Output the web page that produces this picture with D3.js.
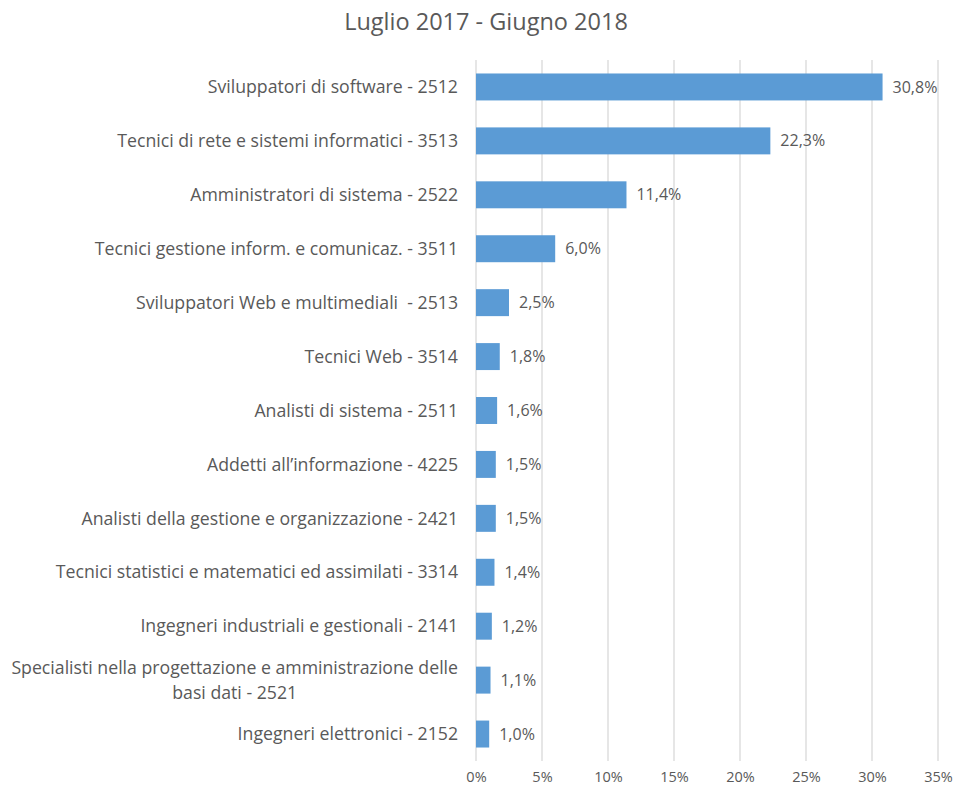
<!DOCTYPE html>
<html><head><meta charset="utf-8">
<script src="https://cdn.jsdelivr.net/npm/d3@7"></script>
<style>body{margin:0;background:#fff}text{font-family:"Open Sans",sans-serif;fill:#595959}</style>
</head><body><svg id="c" width="956" height="789"></svg>
<script>
const title = "Luglio 2017 - Giugno 2018";
const categories = [
 ["Sviluppatori di software - 2512"],
 ["Tecnici di rete e sistemi informatici - 3513"],
 ["Amministratori di sistema - 2522"],
 ["Tecnici gestione inform. e comunicaz. - 3511"],
 ["Sviluppatori Web e multimediali  - 2513"],
 ["Tecnici Web - 3514"],
 ["Analisti di sistema - 2511"],
 ["Addetti all\u2019informazione - 4225"],
 ["Analisti della gestione e organizzazione - 2421"],
 ["Tecnici statistici e matematici ed assimilati - 3314"],
 ["Ingegneri industriali e gestionali - 2141"],
 ["Specialisti nella progettazione e amministrazione delle","basi dati - 2521"],
 ["Ingegneri elettronici - 2152"]
];
const values = [30.8, 22.3, 11.4, 6.0, 2.5, 1.8, 1.6, 1.5, 1.5, 1.4, 1.2, 1.1, 1.0];
const ticks = [0, 5, 10, 15, 20, 25, 30, 35];

const svg = d3.select("#c");
const x = d3.scaleLinear().domain([0, 35]).range([476, 938]);
const y = d3.scaleBand().domain(d3.range(categories.length)).range([60, 761]).paddingInner(0.5).paddingOuter(0.25);

svg.append("text").attr("x", 486).attr("y", 30).attr("text-anchor", "middle")
  .style("font-size", "23.5px").text(title);

const grid = svg.append("g");
grid.selectAll("line").data(ticks).join("line")
  .attr("x1", d => x(d)).attr("x2", d => x(d)).attr("y1", 60).attr("y2", 761)
  .attr("stroke", "#d9d9d9").attr("stroke-width", 1.3);

const axis = d3.axisBottom(x).tickValues(ticks).tickSize(0).tickPadding(0).tickFormat(d => d + "%");
const ag = svg.append("g").attr("transform", "translate(0,772)").call(axis);
ag.select(".domain").remove();
ag.selectAll("text").style("font-size", "14.5px").style("fill", "#595959").style("font-family", "'Open Sans',sans-serif");

svg.append("g").selectAll("rect").data(values).join("rect")
  .attr("x", x(0)).attr("y", (d, i) => y(i)).attr("width", d => x(d) - x(0)).attr("height", y.bandwidth())
  .attr("fill", "#5b9bd5");

svg.append("g").selectAll("text").data(values).join("text")
  .attr("x", d => x(d) + 10).attr("y", (d, i) => y(i) + y.bandwidth() / 2).attr("dy", "0.35em")
  .style("font-size", "16px").text(d => d.toFixed(1).replace(".", ",") + "%");

const lg = svg.append("g");
categories.forEach((lines, i) => {
  const cy = y(i) + y.bandwidth() / 2;
  const lh = 25;
  const t = lg.append("text").attr("y", cy).style("font-size", "17.7px").style("white-space", "pre");
  const spans = lines.map((l, k) => t.append("tspan").attr("y", cy + (k - (lines.length - 1) / 2) * lh).attr("dy", "0.35em").text(l));
  if (lines.length === 1) {
    t.attr("text-anchor", "end"); spans[0].attr("x", 458);
  } else {
    const w = d3.max(spans, s => s.node().getComputedTextLength());
    t.attr("text-anchor", "middle"); spans.forEach(s => s.attr("x", 458 - w / 2));
  }
});
</script></body></html>
